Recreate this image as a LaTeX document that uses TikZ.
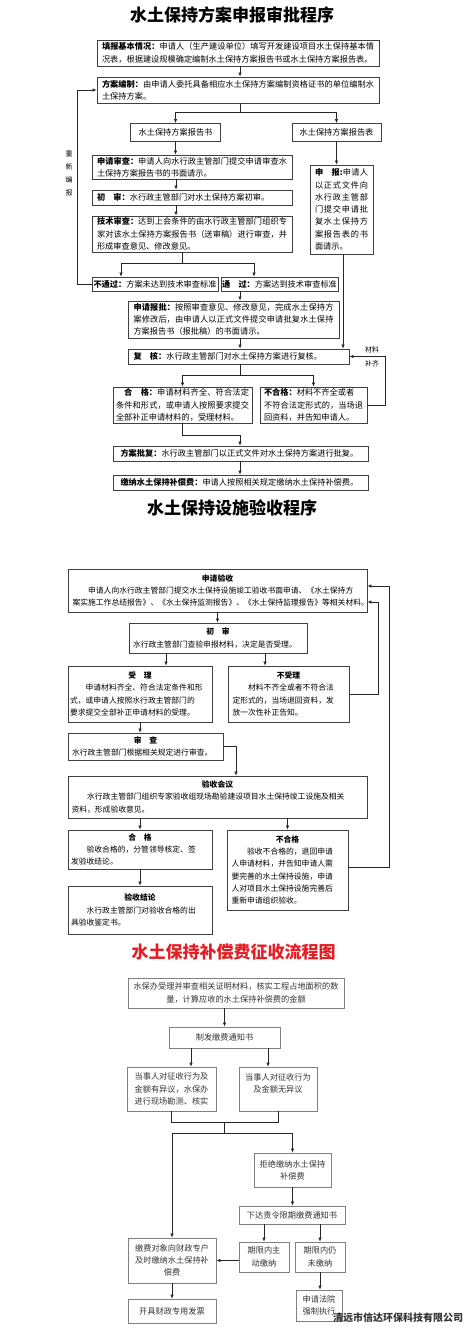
\documentclass[tikz,border=0pt]{standalone}
\usepackage{fontspec}
\setmainfont{Noto Sans CJK SC}
\XeTeXlinebreaklocale "zh"
\XeTeXlinebreakskip=0pt plus 1pt
\usetikzlibrary{arrows.meta,calc}

\definecolor{titlered}{RGB}{228,30,36}
\newcommand{\boxtitle}[1]{{\centering\bfseries #1\par}\noindent}

\tikzset{
  box/.style={draw=black!75, line width=0.8pt, inner sep=0pt, align=justify,
    font=\fontsize{8.2}{12.3}\selectfont},
  boxb/.style={box, font=\fontsize{7.8}{12.3}\selectfont},
  boxc/.style={box, draw=black!50, align=flush center, text=black!80},
  wh/.style 2 args={minimum width=#1pt, minimum height=#2pt},
  tw/.style={text width=#1pt},
  link/.style={draw=black!85, line width=0.6pt},
  arr/.style={link, -{Latex[length=4pt,width=3.4pt]}},
  heading/.style={font=\fontsize{17}{20}\selectfont\bfseries},
  note/.style={font=\fontsize{7}{13}\selectfont, align=center, inner sep=0pt},
}

\begin{document}
\begin{tikzpicture}[x=1pt, y=-1pt]
    \useasboundingbox (0,0) rectangle (465,1327);

    % Plan approval (top)
    \begin{scope}
        \node[heading] (t1) at (232,15) {水土保持方案申报审批程序};
        \node[box, wh={282}{26}, tw=272] (fill) at (238,53) {\textbf{填报基本情况：}申请人（生产建设单位）填写开发建设项目水土保持基本情况表，根据建设规模确定编制水土保持方案报告书或水土保持方案报告表。};
        \node[box, wh={282}{26}, tw=272] (plan) at (238,90) {\textbf{方案编制：}由申请人委托具备相应水土保持方案编制资格证书的单位编制水土保持方案。};
        \node[note] (redo) at (69,173) {重\\新\\编\\报};
        \node[box, wh={90}{18}, align=center] (book) at (175.5,132.5) {水土保持方案报告书};
        \node[box, wh={89}{18}, align=center] (sheet) at (336.5,132.5) {水土保持方案报告表};
        \node[box, wh={200}{24}, tw=190] (apply) at (192,167) {\textbf{申请审查：}申请人向水行政主管部门提交申请审查水土保持方案报告书的书面请示。};
        \node[box, wh={200}{15}, tw=190] (first) at (192,197.5) {\textbf{初　审：}水行政主管部门对水土保持方案初审。};
        \node[box, wh={200}{36}, tw=190] (tech) at (192,234) {\textbf{技术审查：}达到上会条件的由水行政主管部门组织专家对该水土保持方案报告书（送审稿）进行审查，并形成审查意见、修改意见。};
        \node[box, wh={126}{14}] (fail) at (155,284) {\textbf{不通过：}方案未达到技术审查标准};
        \node[box, wh={117}{14}] (pass) at (279.5,284) {\textbf{通　过：}方案达到技术审查标准};
        \node[box, wh={211}{37}, tw=200] (rep) at (233.5,319.5) {\textbf{申请报批：}按照审查意见、修改意见，完成水土保持方案修改后，由申请人以正式文件提交申请批复水土保持方案报告书（报批稿）的书面请示。};
        \node[box, wh={63}{89}, tw=53] (decl) at (341.5,209.5) {\textbf{申　报:}申请人以正式文件向水行政主管部门提交申请批复水土保持方案报告表的书面请示。};
        \node[box, wh={221}{15}, tw=210] (chk) at (238.5,356.5) {\textbf{复　核：}水行政主管部门对水土保持方案进行复核。};
        \node[box, wh={139}{36}, tw=133] (ok) at (182.5,405) {\hspace*{1em}\textbf{合　格：}申请材料齐全、符合法定条件和形式，或申请人按照要求提交全部补正申请材料的，受理材料。};
        \node[box, wh={107}{36}, tw=99] (bad) at (313.5,405) {\textbf{不合格：}材料不齐全或者\\不符合法定形式的，当场退回资料，并告知申请人。};
        \node[note] (supp) at (372,356.5) {材料\\[1pt]补齐};
        \node[box, wh={255}{15}, tw=240] (approve) at (240.5,453.5) {\textbf{方案批复：}水行政主管部门以正式文件对水土保持方案进行批复。};
        \node[box, wh={255}{15}, tw=240] (paycomp) at (240.5,482.5) {\textbf{缴纳水土保持补偿费：}申请人按照相关规定缴纳水土保持补偿费。};

        \coordinate (mid) at (240,0);
        \coordinate (lft) at (176,0);
        \draw[arr] (fill.south -| mid) -- (plan.north -| mid);
        \draw[link] (plan.south -| mid) -- ++(0,9) coordinate (split1);
        \draw[arr] (split1) -| (book.north);
        \draw[arr] (split1) -| (sheet.north);
        \draw[arr] (book.south) -- (book.south |- apply.north);
        \draw[arr] (apply.south -| lft) -- (first.north -| lft);
        \draw[arr] (first.south -| lft) -- (tech.north -| lft);
        \draw[link] ([xshift=-10pt]tech.south) -- ++(0,11) coordinate (split2);
        \draw[arr] (split2) -| ([xshift=-34pt]fail.north);
        \draw[arr] (split2) -| ([xshift=-25.5pt]pass.north);
        \draw[arr] (fail.west) -- ++(-14,0) |- (plan.west);
        \draw[arr] (pass.south -| mid) -- (rep.north -| mid);
        \draw[arr] (sheet.south) -- (sheet.south |- decl.north);
        \draw[arr] ([xshift=1.5pt]decl.south) -- ([xshift=1.5pt]decl.south |- chk.north);
        \draw[arr] (rep.south -| mid) -- (chk.north -| mid);
        \draw[link] (chk.south -| mid) -- ++(0,11) coordinate (split3);
        \draw[arr] (split3) -| (ok.north);
        \draw[arr] (split3) -| (bad.north);
        \draw[arr] (bad.east) -- ++(18,0) |- (chk.east);
        \draw[arr] (ok.south) -- ++(0,12) -| (approve.north -| mid);
        \draw[arr] (approve.south -| mid) -- (paycomp.north -| mid);
    \end{scope}

    % Facility acceptance (middle)
    \begin{scope}
        \node[heading] (t2) at (232,508) {水土保持设施验收程序};
        \node[boxb, wh={299}{43}, tw=290] (acc) at (217.5,590.5) {\boxtitle{申请验收}\hspace*{2em}申请人向水行政主管部门提交水土保持设施竣工验收书面申请、《水土保持方\\\mbox{案实施工作总结报告》、《水土保持监测报告》、《水土保持监理报告》等相关材料。}};
        \node[boxb, wh={178}{30}, tw=170] (init) at (218,638) {\boxtitle{初　审}水行政主管部门查验申报材料，决定是否受理。};
        \node[boxb, wh={144}{56}, tw=140] (accept) at (140,694) {\boxtitle{受　理}\hspace*{2em}申请材料齐全、符合法定条件和形\\式，或申请人按照水行政主管部门的\\要求提交全部补正申请材料的受理。};
        \node[boxb, wh={121}{56}, tw=112] (reject) at (288.5,694) {\boxtitle{不受理}\hspace*{2em}材料不齐全或者不符合法\\定形式的，当场退回资料，发\\放一次性补正告知。};
        \node[boxb, wh={155}{27}, tw=147] (review) at (145.5,746.5) {\boxtitle{审　查}水行政主管部门根据相关规定进行审查。};
        \node[boxb, wh={299}{42}, tw=292] (meet) at (217.5,797) {\boxtitle{验收会议}\hspace*{2em}水行政主管部门组织专家验收组现场勘验建设项目水土保持竣工设施及相关\\资料，形成验收意见。};
        \node[boxb, wh={144}{39}, tw=138] (pass2) at (140,849.5) {\boxtitle{合　格}\hspace*{2em}验收合格的，分管领导核定、签\\发验收结论。};
        \node[boxb, wh={121}{80}, tw=112] (fail2) at (287.5,870) {\boxtitle{不合格}\hspace*{2em}验收不合格的，退回申请\\人申请材料，并告知申请人需\\要完善的水土保持设施，申请\\人对项目水土保持设施完善后\\重新申请组织验收。};
        \node[boxb, wh={144}{48}, tw=138] (concl) at (140,910) {\boxtitle{验收结论}\hspace*{2em}水行政主管部门对验收合格的出\\具验收鉴定书。};

        \coordinate (c2a) at (166,0);
        \coordinate (c2b) at (265,0);
        \draw[arr] (acc.south) -- (acc.south |- init.north);
        \draw[arr] (init.south -| c2a) -- (accept.north -| c2a);
        \draw[arr] (init.south -| c2b) -- (reject.north -| c2b);
        \draw[arr] (reject.east) -- ++(29,0) |- ([yshift=-11.5pt]acc.east);
        \draw[arr] (accept.south) -- (accept.south |- review.north);
        \draw[arr] (review.east) -| ([xshift=18.5pt]meet.north);
        \draw[arr] (meet.south -| pass2.north) -- (pass2.north);
        \draw[arr] (meet.south -| fail2.north) -- (fail2.north);
        \draw[arr] ([yshift=3pt]fail2.east) -- ++(41,0) |- ([yshift=4.5pt]acc.east);
        \draw[arr] (pass2.south) -- (concl.north);
    \end{scope}

    % Compensation fee (bottom)
    \begin{scope}
        \node[heading, text=titlered] (t3) at (233.5,952) {水土保持补偿费征收流程图};
        \node[boxc, wh={216}{30}, tw=207] (verify) at (236,993) {水保办受理并审查相关证明材料，核实工程占地面积的数\\量，计算应收的水土保持补偿费的金额};
        \node[boxc, wh={111}{21}] (notice) at (224.5,1037.5) {制发缴费通知书};
        \node[boxc, wh={89}{44}, tw=80] (objn) at (171.5,1089) {当事人对征收行为及\\金额有异议，水保办\\进行现场勘测、核实};
        \node[boxc, wh={78}{44}, tw=72] (agree) at (278,1089) {当事人对征收行为\\及金额无异议\\~};
        \node[boxc, wh={77}{34}, tw=72] (refuse) at (292.5,1170) {拒绝缴纳水土保持\\补偿费};
        \node[boxc, wh={106}{18}] (order) at (292,1215) {下达责令限期缴费通知书};
        \node[boxc, wh={50}{30}, tw=40] (vol) at (264,1257) {期限内主\\动缴纳};
        \node[boxc, wh={50}{30}, tw=40] (late) at (320,1257) {期限内仍\\未缴纳};
        \node[boxc, wh={88}{45}, tw=80] (pay3) at (172,1260.5) {缴费对象向财政专户\\及时缴纳水土保持补\\偿费};
        \node[boxc, wh={88}{24}] (invoice) at (172,1311) {开具财政专用发票};
        \node[boxc, wh={46}{31}, tw=40] (court) at (319,1305.5) {申请法院\\强制执行};
        \node[font=\fontsize{10}{12}\selectfont\bfseries, text=black!80, inner sep=0pt] (firm) at (398,1318) {清远市信达环保科技有限公司};

        \draw[arr] (verify.south -| notice.north) -- (notice.north);
        \draw[arr] ([xshift=-33.5pt]notice.south) -- ([xshift=-33.5pt]notice.south |- objn.north);
        \draw[arr] ([xshift=43.5pt]notice.south) -- ([xshift=43.5pt]notice.south |- agree.north);
        \draw[link] (objn.south) -- ++(0,11) -| (agree.south);
        \coordinate (join) at ($(objn.south)!0.5!(agree.south)+(0,11)$);
        \draw[link] (join) -- ++(0,11) coordinate (fork);
        \draw[arr] (fork) -| (pay3.north);
        \draw[arr] (fork) -| (refuse.north);
        \draw[arr] (refuse.south) -- (refuse.south |- order.north);
        \draw[arr] (order.south -| vol.north) -- (vol.north);
        \draw[arr] (order.south -| late.north) -- (late.north);
        \draw[arr] (pay3.east -| vol.west) -- (pay3.east);
        \draw[arr] (pay3.south) -- (invoice.north);
        \draw[arr] (late.south) -- (late.south |- court.north);
    \end{scope}
\end{tikzpicture}
\end{document}
